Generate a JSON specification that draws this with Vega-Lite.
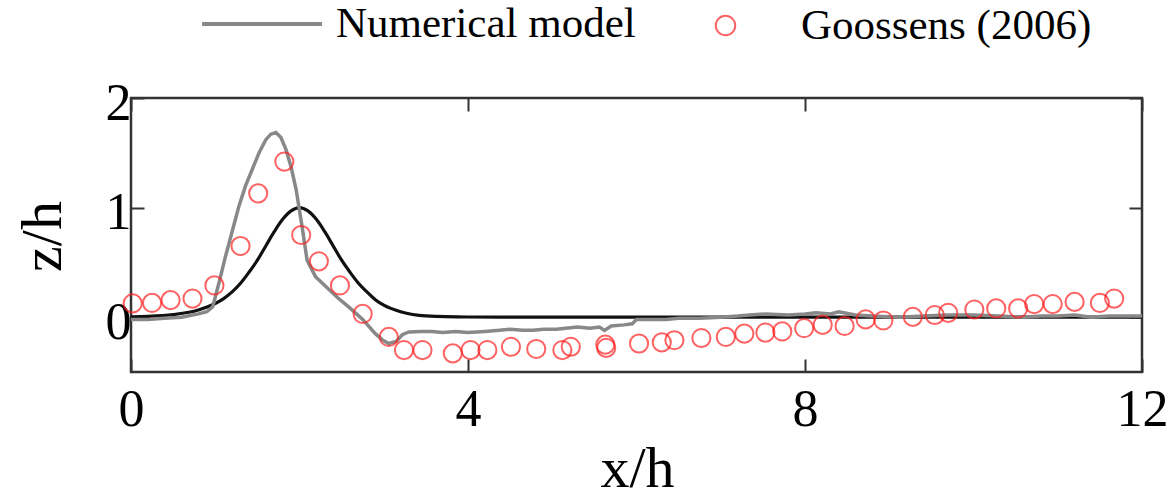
{
  "$schema": "https://vega.github.io/schema/vega-lite/v6.json",
  "autosize": {"type": "none"},
  "padding": {"left": 131, "top": 98, "right": 31, "bottom": 129},
  "width": 1011,
  "height": 274,
  "background": "white",
  "config": {
    "view": {"stroke": "#333333", "strokeWidth": 2.5},
    "axis": {"domain": false, "grid": false, "tickColor": "#333333", "tickWidth": 2, "tickSize": -13,
             "labelFont": "Liberation Serif", "labelFontSize": 52, "labelColor": "black",
             "titleFont": "Liberation Serif", "titleFontSize": 58, "titleFontWeight": "normal", "titleColor": "black"},
    "legend": {"labelFont": "Liberation Serif", "labelFontSize": 43, "labelColor": "black", "labelLimit": 0}
  },
  "datasets": {
    "init": [
      {"x": 0, "z": 0.004}, {"x": 0.2, "z": 0.008}, {"x": 0.5, "z": 0.024}, {"x": 0.8, "z": 0.065},
      {"x": 1.0, "z": 0.125}, {"x": 1.1, "z": 0.17}, {"x": 1.2, "z": 0.231}, {"x": 1.3, "z": 0.31},
      {"x": 1.4, "z": 0.41}, {"x": 1.5, "z": 0.52}, {"x": 1.6, "z": 0.65}, {"x": 1.7, "z": 0.78},
      {"x": 1.8, "z": 0.893}, {"x": 1.9, "z": 0.97}, {"x": 2.0, "z": 1.0}, {"x": 2.1, "z": 0.97},
      {"x": 2.2, "z": 0.893}, {"x": 2.3, "z": 0.78}, {"x": 2.4, "z": 0.65}, {"x": 2.5, "z": 0.52},
      {"x": 2.6, "z": 0.41}, {"x": 2.7, "z": 0.31}, {"x": 2.8, "z": 0.231}, {"x": 2.9, "z": 0.16},
      {"x": 3.0, "z": 0.11}, {"x": 3.2, "z": 0.05}, {"x": 3.5, "z": 0.012}, {"x": 4.0, "z": 0.002},
      {"x": 5.0, "z": 0.0}, {"x": 12.0, "z": 0.0}
    ],
    "model": [
      {"x": 0, "z": -0.02}, {"x": 0.2, "z": -0.02}, {"x": 0.4, "z": -0.01}, {"x": 0.6, "z": 0.0},
      {"x": 0.8, "z": 0.03}, {"x": 0.9, "z": 0.05}, {"x": 0.97, "z": 0.095}, {"x": 1.05, "z": 0.33},
      {"x": 1.12, "z": 0.55}, {"x": 1.2, "z": 0.78}, {"x": 1.28, "z": 1.01}, {"x": 1.36, "z": 1.2},
      {"x": 1.44, "z": 1.35}, {"x": 1.52, "z": 1.5}, {"x": 1.6, "z": 1.62}, {"x": 1.66, "z": 1.67},
      {"x": 1.72, "z": 1.685}, {"x": 1.78, "z": 1.64}, {"x": 1.84, "z": 1.53}, {"x": 1.9, "z": 1.37},
      {"x": 1.96, "z": 1.165}, {"x": 2.03, "z": 0.83}, {"x": 2.09, "z": 0.52}, {"x": 2.19, "z": 0.37},
      {"x": 2.3, "z": 0.29}, {"x": 2.45, "z": 0.18}, {"x": 2.59, "z": 0.09}, {"x": 2.75, "z": -0.02},
      {"x": 2.9, "z": -0.15}, {"x": 2.99, "z": -0.21}, {"x": 3.06, "z": -0.24}, {"x": 3.15, "z": -0.22},
      {"x": 3.22, "z": -0.16}, {"x": 3.3, "z": -0.135}, {"x": 3.45, "z": -0.13}, {"x": 3.57, "z": -0.13},
      {"x": 3.7, "z": -0.14}, {"x": 3.85, "z": -0.13}, {"x": 4.0, "z": -0.14}, {"x": 4.2, "z": -0.13},
      {"x": 4.37, "z": -0.12}, {"x": 4.5, "z": -0.11}, {"x": 4.65, "z": -0.12}, {"x": 4.77, "z": -0.12},
      {"x": 4.9, "z": -0.11}, {"x": 5.05, "z": -0.11}, {"x": 5.16, "z": -0.1}, {"x": 5.3, "z": -0.09},
      {"x": 5.45, "z": -0.1}, {"x": 5.56, "z": -0.09}, {"x": 5.62, "z": -0.12}, {"x": 5.7, "z": -0.08},
      {"x": 5.85, "z": -0.07}, {"x": 5.95, "z": -0.06}, {"x": 6.0, "z": -0.02}, {"x": 6.2, "z": -0.02},
      {"x": 6.35, "z": -0.02}, {"x": 6.5, "z": -0.01}, {"x": 6.75, "z": -0.01}, {"x": 7.0, "z": 0.0},
      {"x": 7.2, "z": 0.01}, {"x": 7.34, "z": 0.02}, {"x": 7.54, "z": 0.03}, {"x": 7.8, "z": 0.02},
      {"x": 8.0, "z": 0.03}, {"x": 8.13, "z": 0.04}, {"x": 8.3, "z": 0.03}, {"x": 8.4, "z": 0.05},
      {"x": 8.6, "z": 0.02}, {"x": 8.8, "z": 0.01}, {"x": 9.12, "z": 0.0}, {"x": 9.4, "z": 0.01},
      {"x": 9.7, "z": 0.02}, {"x": 10.0, "z": 0.02}, {"x": 10.3, "z": 0.01}, {"x": 10.6, "z": 0.0},
      {"x": 10.8, "z": 0.01}, {"x": 11.0, "z": 0.01}, {"x": 11.2, "z": 0.02}, {"x": 11.4, "z": 0.0},
      {"x": 11.6, "z": 0.01}, {"x": 11.8, "z": 0.01}, {"x": 12.0, "z": 0.01}
    ],
    "obs": [
      {"x": 0.02, "z": 0.126}, {"x": 0.25, "z": 0.13}, {"x": 0.47, "z": 0.156}, {"x": 0.73, "z": 0.17},
      {"x": 0.99, "z": 0.29}, {"x": 1.3, "z": 0.65}, {"x": 1.51, "z": 1.13}, {"x": 1.82, "z": 1.42},
      {"x": 2.02, "z": 0.75}, {"x": 2.23, "z": 0.51}, {"x": 2.48, "z": 0.29}, {"x": 2.75, "z": 0.03},
      {"x": 3.06, "z": -0.18}, {"x": 3.24, "z": -0.3}, {"x": 3.46, "z": -0.3}, {"x": 3.82, "z": -0.33},
      {"x": 4.03, "z": -0.3}, {"x": 4.23, "z": -0.3}, {"x": 4.51, "z": -0.27}, {"x": 4.81, "z": -0.29},
      {"x": 5.12, "z": -0.3}, {"x": 5.22, "z": -0.27}, {"x": 5.63, "z": -0.25}, {"x": 5.64, "z": -0.28},
      {"x": 6.03, "z": -0.24}, {"x": 6.3, "z": -0.23}, {"x": 6.45, "z": -0.21}, {"x": 6.77, "z": -0.19},
      {"x": 7.06, "z": -0.18}, {"x": 7.28, "z": -0.15}, {"x": 7.53, "z": -0.14}, {"x": 7.73, "z": -0.13},
      {"x": 7.99, "z": -0.1}, {"x": 8.21, "z": -0.07}, {"x": 8.47, "z": -0.08}, {"x": 8.72, "z": -0.02},
      {"x": 8.93, "z": -0.03}, {"x": 9.28, "z": 0.003}, {"x": 9.54, "z": 0.02}, {"x": 9.7, "z": 0.04},
      {"x": 10.01, "z": 0.07}, {"x": 10.27, "z": 0.08}, {"x": 10.53, "z": 0.08}, {"x": 10.72, "z": 0.12},
      {"x": 10.94, "z": 0.12}, {"x": 11.2, "z": 0.14}, {"x": 11.5, "z": 0.13}, {"x": 11.67, "z": 0.17}
    ]
  },
  "resolve": {"axis": {"x": "independent", "y": "independent"}},
  "layer": [
    {
      "data": {"name": "init"},
      "mark": {"type": "line", "color": "#111111", "strokeWidth": 3.2, "interpolate": "monotone"},
      "encoding": {
        "x": {"field": "x", "type": "quantitative", "scale": {"domain": [0, 12], "nice": false, "zero": false},
              "axis": {"orient": "bottom", "values": [0, 4, 8, 12], "title": "x/h", "labelPadding": 25, "labelBaseline": "top", "labelFlush": false,
                       "titleX": 506, "titleY": 114, "titleBaseline": "alphabetic", "titleAlign": "center"}},
        "y": {"field": "z", "type": "quantitative", "scale": {"domain": [-0.5, 2], "nice": false, "zero": false},
              "axis": {"orient": "left", "values": [0, 1, 2], "title": "z/h", "labelPadding": 13, "labelOffset": 5, "labelFlush": false,
                       "titleX": -88, "titleY": 138, "titleAngle": -90, "titleBaseline": "middle", "titleAlign": "center"}}
      }
    },
    {
      "data": {"name": "model"},
      "transform": [{"calculate": "'Numerical model'", "as": "series"}],
      "mark": {"type": "line", "strokeWidth": 3.5},
      "encoding": {
        "x": {"field": "x", "type": "quantitative", "scale": {"domain": [0, 12], "nice": false, "zero": false},
              "axis": {"orient": "top", "values": [0, 4, 8, 12], "labels": false, "title": null}},
        "y": {"field": "z", "type": "quantitative", "scale": {"domain": [-0.5, 2], "nice": false, "zero": false},
              "axis": {"orient": "right", "values": [0, 1, 2], "labels": false, "title": null}},
        "color": {"field": "series", "type": "nominal", "scale": {"domain": ["Numerical model"], "range": ["#888888"]},
                  "legend": {"orient": "none", "legendX": 69, "legendY": -136, "title": null, "symbolType": "stroke",
                             "symbolSize": 14400, "symbolStrokeWidth": 4, "symbolStrokeColor": "#888888", "labelOffset": 12}}
      }
    },
    {
      "data": {"name": "obs"},
      "transform": [{"calculate": "'Goossens (2006)'", "as": "source"}],
      "mark": {"type": "point", "filled": false, "size": 330, "strokeWidth": 2, "color": "#ff2020"},
      "encoding": {
        "x": {"field": "x", "type": "quantitative", "scale": {"domain": [0, 12], "nice": false, "zero": false}, "axis": null},
        "y": {"field": "z", "type": "quantitative", "scale": {"domain": [-0.5, 2], "nice": false, "zero": false}, "axis": null},
        "shape": {"field": "source", "type": "nominal", "scale": {"domain": ["Goossens (2006)"], "range": ["circle"]},
                  "legend": {"orient": "none", "legendX": 573, "legendY": -94, "title": null, "symbolSize": 380,
                             "symbolStrokeColor": "#ff2020", "symbolStrokeWidth": 2, "symbolFillColor": "transparent", "labelOffset": 54}}
      }
    }
  ]
}
